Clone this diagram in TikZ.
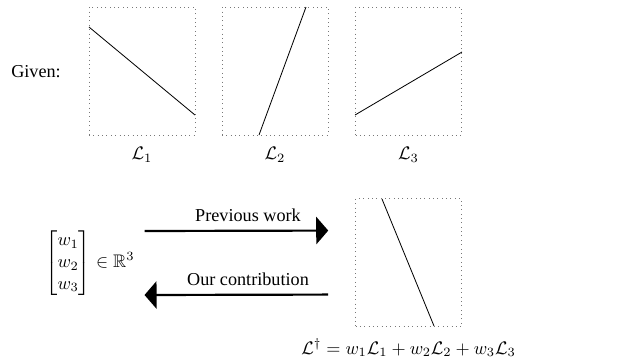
\documentclass[tikz,border=0pt]{standalone}
\usepackage[no-math]{fontspec}
\setmainfont{Liberation Serif}
\usepackage{amsmath, amssymb}
\usepackage{tikz}
\usetikzlibrary{arrows.meta, positioning}

\definecolor{BoxGray}{RGB}{120,120,120}

\tikzset{
  plotbox/.style={draw=BoxGray, dotted, thin, minimum width=58.3pt, minimum height=70.4pt, inner sep=0pt},
  curve/.style={black, line width=0.45pt},
  bigarrow/.style={-{Triangle[length=6.6pt, width=15pt]}, line width=1.2pt}
}

\begin{document}
\begin{tikzpicture}[x=0.55pt, y=-0.55pt]
      \useasboundingbox (0,0) rectangle (628,358);

      \node (given) at (36,72) {Given:};

      % the three given plots
      \foreach \i/\x in {1/142, 2/275, 3/408.5}{
        \node[plotbox] (b\i) at (\x,71) {};
        \node[below=3pt of b\i] (lab\i) {$\mathcal{L}_\i$};
      }
      \draw[curve] (89,27) -- (195,115);
      \draw[curve] (259,135) -- (306,7);
      \draw[curve] (355,115) -- (462,52);

      % weights and combined plot
      \node (vec) at (90,263) {$\begin{bmatrix} w_1\\ w_2\\ w_3 \end{bmatrix} \in \mathbb{R}^3$};
      \node[plotbox] (b4) at (408.5,262.5) {};
      \node[below=3pt of b4] (sum) {$\mathcal{L}^\dagger = w_1\mathcal{L}_1 + w_2\mathcal{L}_2 + w_3\mathcal{L}_3$};
      \draw[curve] (382,199) -- (434,326);

      \draw[bigarrow, shorten <=2pt, shorten >=14.8pt]
            ([yshift=17.6pt]vec.east) -- ([yshift=17.6pt]b4.west)
            node[midway, above=1pt] {Previous work};
      \draw[bigarrow, shorten <=14.8pt, shorten >=2pt]
            ([yshift=-17.6pt]b4.west) -- ([yshift=-17.6pt]vec.east)
            node[midway, above=1pt] {Our contribution};
\end{tikzpicture}
\end{document}
